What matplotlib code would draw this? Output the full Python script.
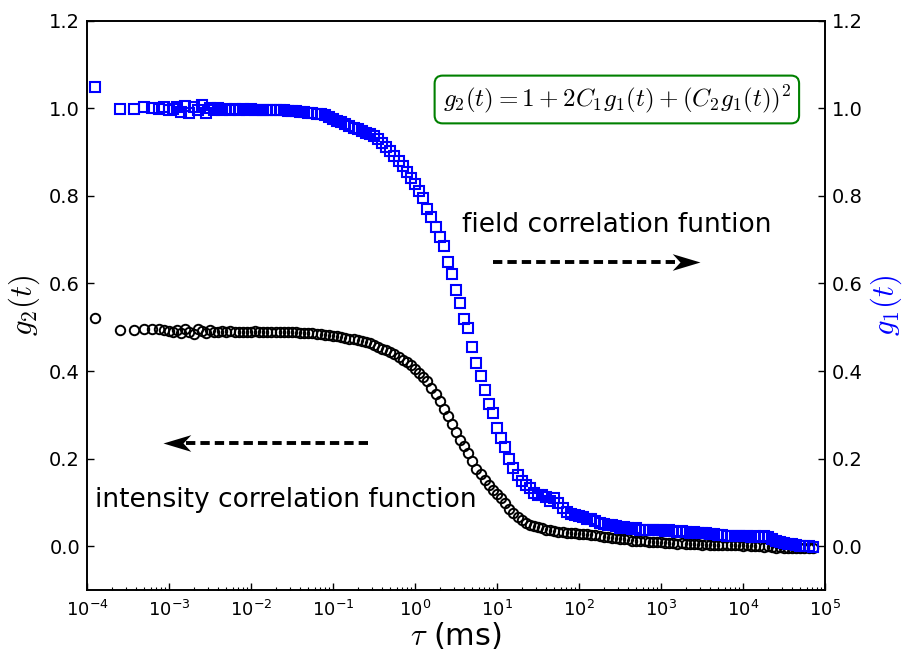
import numpy as np
import matplotlib
matplotlib.use('Agg')
import matplotlib.pyplot as plt
from matplotlib.path import Path
from matplotlib.ticker import LogLocator, NullFormatter, FormatStrFormatter

# lag times (ms): linear start of the correlator, then log spaced channels
tau = [1.25e-4, 2.5e-4, 3.75e-4, 5.0e-4, 6.25e-4, 7.5e-4, 8.75e-4, 1.0e-3,
       1.12e-3, 1.26e-3, 1.41e-3, 1.58e-3, 1.78e-3, 2.00e-3, 2.24e-3, 2.51e-3, 2.82e-3, 3.16e-3,
       3.55e-3, 3.98e-3, 4.47e-3, 5.01e-3, 5.62e-3, 6.31e-3, 7.08e-3, 7.94e-3, 8.91e-3,
       1.00e-2, 1.12e-2, 1.26e-2, 1.41e-2, 1.58e-2, 1.78e-2, 2.00e-2, 2.24e-2, 2.51e-2, 2.82e-2,
       3.16e-2, 3.55e-2, 3.98e-2, 4.47e-2, 5.01e-2, 5.62e-2, 6.31e-2, 7.08e-2, 7.94e-2, 8.91e-2,
       1.00e-1, 1.12e-1, 1.26e-1, 1.41e-1, 1.58e-1, 1.78e-1, 2.00e-1, 2.24e-1, 2.51e-1, 2.82e-1,
       3.16e-1, 3.55e-1, 3.98e-1, 4.47e-1, 5.01e-1, 5.62e-1, 6.31e-1, 7.08e-1, 7.94e-1, 8.91e-1,
       1.00, 1.12, 1.26, 1.41, 1.58, 1.78, 2.00, 2.24, 2.51, 2.82,
       3.16, 3.55, 3.98, 4.47, 5.01, 5.62, 6.31, 7.08, 7.94, 8.91,
       10.0, 11.2, 12.6, 14.1, 15.8, 17.8, 20.0, 22.4, 25.1, 28.2,
       31.6, 35.5, 39.8, 44.7, 50.1, 56.2, 63.1, 70.8, 79.4, 89.1,
       100., 112., 126., 141., 158., 178., 200., 224., 251., 282.,
       316., 355., 398., 447., 501., 562., 631., 708., 794., 891.,
       1.00e3, 1.12e3, 1.26e3, 1.41e3, 1.58e3, 1.78e3, 2.00e3, 2.24e3, 2.51e3, 2.82e3,
       3.16e3, 3.55e3, 3.98e3, 4.47e3, 5.01e3, 5.62e3, 6.31e3, 7.08e3, 7.94e3, 8.91e3,
       1.00e4, 1.12e4, 1.26e4, 1.41e4, 1.58e4, 1.78e4, 2.00e4, 2.24e4, 2.51e4, 2.82e4,
       3.16e4, 3.55e4, 3.98e4, 4.47e4, 5.01e4, 5.62e4, 6.31e4, 7.08e4]

# intensity correlation g2 - 1 (left axis)
g2 = [0.520, 0.493, 0.493, 0.497, 0.497, 0.495, 0.494, 0.491,
      0.490, 0.494, 0.486, 0.496, 0.489, 0.484, 0.495, 0.491, 0.487, 0.493,
      0.490, 0.489, 0.492, 0.490, 0.491, 0.489, 0.490, 0.490,
      0.490, 0.489, 0.491, 0.490, 0.489, 0.490, 0.489, 0.489, 0.490, 0.488,
      0.489, 0.488, 0.488, 0.487, 0.487, 0.486, 0.486, 0.485, 0.484, 0.483,
      0.482, 0.480, 0.479, 0.477, 0.476, 0.474, 0.472, 0.470, 0.468, 0.466,
      0.463, 0.459, 0.455, 0.451, 0.447, 0.443, 0.438, 0.432, 0.426, 0.421,
      0.414, 0.405, 0.396, 0.386, 0.377, 0.362, 0.347, 0.331, 0.313, 0.297,
      0.278, 0.261, 0.243, 0.228, 0.213, 0.194, 0.177, 0.164, 0.151, 0.139,
      0.128, 0.119, 0.110, 0.098, 0.086, 0.076, 0.067, 0.059, 0.054, 0.049,
      0.046, 0.043, 0.041, 0.038, 0.036, 0.035, 0.033, 0.032, 0.030, 0.030,
      0.029, 0.028, 0.027, 0.027, 0.025, 0.026, 0.023, 0.022, 0.022, 0.019,
      0.019, 0.017, 0.016, 0.016, 0.013, 0.013, 0.011, 0.012, 0.010, 0.010,
      0.009, 0.010, 0.008, 0.007, 0.008, 0.006, 0.007, 0.005, 0.006, 0.004,
      0.004, 0.003, 0.004, 0.002, 0.003, 0.002, 0.003, 0.002, 0.002, 0.002,
      0.002, 0.001, 0.002, 0.000, 0.001, 0.000, -0.001, 0.000, -0.002, -0.003,
      -0.002, -0.004, -0.004, -0.005, -0.004, -0.005, -0.005, -0.005, -0.004]

# field correlation g1 (right axis)
g1 = [1.048, 0.998, 0.998, 1.003, 1.001, 0.999, 1.002, 0.996,
      0.998, 1.004, 0.992, 1.006, 0.989, 1.003, 0.995, 1.007, 0.990, 1.001,
      0.996, 1.000, 0.997, 0.999, 0.996, 0.998, 0.997, 0.998,
      0.997, 0.998, 0.996, 0.997, 0.997, 0.996, 0.996, 0.996, 0.995, 0.995,
      0.994, 0.993, 0.993, 0.992, 0.991, 0.990, 0.989, 0.988, 0.986, 0.984,
      0.980, 0.976, 0.972, 0.968, 0.964, 0.960, 0.956, 0.952, 0.948, 0.944,
      0.941, 0.936, 0.929, 0.921, 0.912, 0.902, 0.891, 0.880, 0.868, 0.855,
      0.841, 0.826, 0.812, 0.796, 0.770, 0.752, 0.730, 0.705, 0.685, 0.648,
      0.622, 0.584, 0.556, 0.519, 0.498, 0.455, 0.418, 0.388, 0.357, 0.324,
      0.304, 0.270, 0.248, 0.226, 0.200, 0.178, 0.163, 0.150, 0.140, 0.133,
      0.122, 0.117, 0.118, 0.112, 0.104, 0.110, 0.098, 0.088, 0.079, 0.074,
      0.072, 0.068, 0.066, 0.063, 0.061, 0.058, 0.053, 0.050, 0.048, 0.048,
      0.046, 0.042, 0.044, 0.041, 0.040, 0.041, 0.038, 0.038, 0.037, 0.036,
      0.036, 0.037, 0.035, 0.036, 0.034, 0.033, 0.034, 0.032, 0.031, 0.032,
      0.030, 0.029, 0.030, 0.028, 0.027, 0.026, 0.025, 0.024, 0.024, 0.023,
      0.024, 0.023, 0.024, 0.022, 0.023, 0.022, 0.023, 0.021, 0.016, 0.012,
      0.010, 0.008, 0.006, 0.004, 0.003, 0.001, 0.000, 0.000, -0.001]

assert len(tau) == len(g2) == len(g1)

xticks = [1e-4, 1e-3, 1e-2, 1e-1, 1e0, 1e1, 1e2, 1e3, 1e4, 1e5]
yticks = [0.0, 0.2, 0.4, 0.6, 0.8, 1.0, 1.2]

plt.rcParams['mathtext.fontset'] = 'cm'
plt.rcParams['font.family'] = 'DejaVu Sans'
plt.rcParams['axes.unicode_minus'] = False


def arrow_head(pointing_right=True):
    """Notched arrow head marker with its tip at the origin."""
    s = 1 if pointing_right else -1
    verts = [(0, 0), (-s * 1.0, 0.3), (-s * 0.72, 0), (-s * 1.0, -0.3), (0, 0)]
    codes = [Path.MOVETO, Path.LINETO, Path.LINETO, Path.LINETO, Path.CLOSEPOLY]
    return Path(verts, codes)


fig = plt.figure(figsize=(9.03, 6.57), dpi=100)
ax = fig.add_axes([0.0963, 0.102, 0.8173, 0.8665])
ax.set_xscale('log')
ax.plot(tau, g2, 'o', mfc='none', mec='k', ms=6.8, mew=1.4)
ax.set_xlim(1e-4, 1e5)
ax.set_ylim(-0.1, 1.2)

ax2 = ax.twinx()
ax2.plot(tau, g1, 's', mfc='none', mec='b', ms=6.8, mew=1.5)
ax2.set_ylim(-0.1, 1.2)

for a in (ax, ax2):
    a.set_yticks(yticks)
    a.yaxis.set_major_formatter(FormatStrFormatter('%.1f'))
    a.tick_params(which='major', direction='in', length=5, width=1, labelsize=14, pad=5)
    a.tick_params(which='minor', direction='in', length=2.5, width=0.8)
    for sp in a.spines.values():
        sp.set_linewidth(1.2)

ax.set_xticks(xticks)
ax.xaxis.set_minor_locator(LogLocator(base=10, subs=np.arange(2, 10), numticks=200))
ax.xaxis.set_minor_formatter(NullFormatter())
ax.set_xlim(1e-4, 1e5)
ax.tick_params(axis='x', top=False, pad=7, labelsize=13)
ax.tick_params(axis='y', right=False)

ax.set_xlabel(r'$\tau$ (ms)', fontsize=22, labelpad=0)
ax.set_ylabel(r'$g_2(t)$', fontsize=22, labelpad=5)
ax2.set_ylabel(r'$g_1(t)$', fontsize=22, color='b', labelpad=4)

# annotations
ax.text(0.508, 0.628, 'field correlation funtion', transform=ax.transAxes,
        fontsize=19, ha='left', va='baseline')
ax.text(0.011, 0.146, 'intensity correlation function', transform=ax.transAxes,
        fontsize=19, ha='left', va='baseline')

ax.plot([0.550, 0.80], [0.576, 0.576], transform=ax.transAxes, color='k',
        lw=2.8, ls=(0, (2.4, 1.3)), zorder=5)
ax.plot([0.8306], [0.576], transform=ax.transAxes, marker=arrow_head(True),
        ms=40, color='k', mew=0, zorder=6)
ax.plot([0.3808, 0.13], [0.2587, 0.2587], transform=ax.transAxes, color='k',
        lw=2.8, ls=(0, (2.4, 1.3)), zorder=5)
ax.plot([0.103], [0.2587], transform=ax.transAxes, marker=arrow_head(False),
        ms=40, color='k', mew=0, zorder=6)

ax.text(0.718, 0.8616, r'$g_2(t) = 1 + 2C_1 g_1(t) + (C_2 g_1(t))^2$',
        transform=ax.transAxes, fontsize=18, ha='center', va='center',
        bbox=dict(boxstyle='round,pad=0.32', fc='white', ec='green', lw=1.5))

fig.savefig('out.png', dpi=100)
